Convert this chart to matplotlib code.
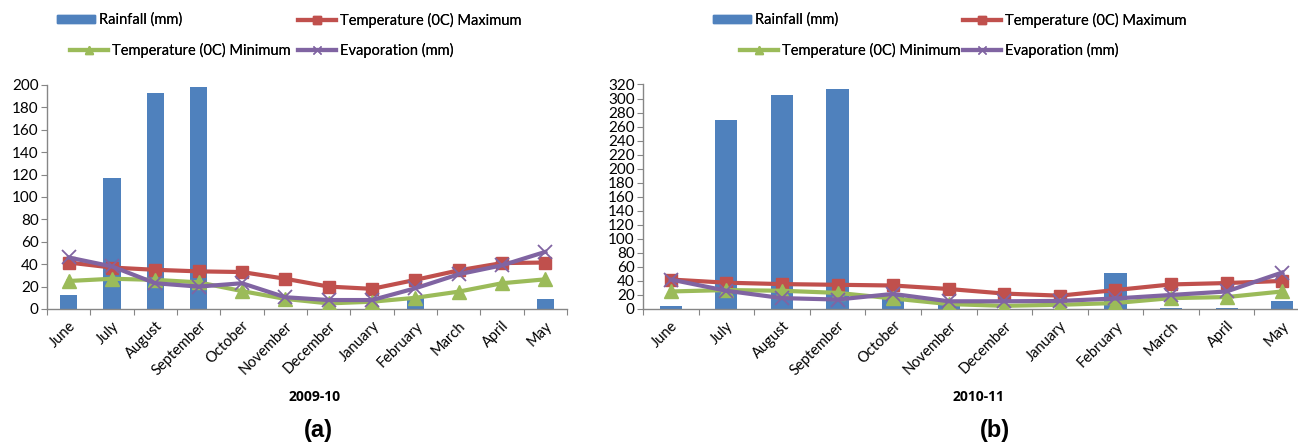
import matplotlib
matplotlib.use("Agg")
import matplotlib.pyplot as plt
from matplotlib.lines import Line2D
from matplotlib.patches import Patch
import numpy as np

plt.rcParams['font.family'] = ['Lato', 'DejaVu Sans']

months = ["June", "July", "August", "September", "October", "November",
          "December", "January", "February", "March", "April", "May"]

# Panel (a) 2009-10
rain_a = [12.5, 117, 193, 198, 0, 0, 0, 0, 9.5, 0, 0, 8.5]
tmax_a = [41.5, 37, 35, 33.6, 33, 27, 20, 18, 26, 34.5, 41, 41.5]
tmin_a = [25, 27, 26, 23.8, 16, 9, 5, 6.5, 10, 15.5, 23, 26.5]
evap_a = [46, 38, 23, 20, 23, 10.5, 8, 8, 18.5, 31, 39, 51]

# Panel (b) 2010-11
rain_b = [4.5, 270, 305, 313, 18, 10, 0, 0, 51, 2, 2, 12]
tmax_b = [42, 37.5, 35.5, 34.5, 33.5, 28.5, 22, 19, 27, 35, 37, 40]
tmin_b = [25, 27, 26, 23, 15, 7, 4.5, 6, 8.5, 15.5, 17, 25]
evap_b = [42, 26, 15.5, 13.5, 21.5, 11, 11, 11.5, 15, 20, 25, 52]

labels = ["Rainfall (mm)", "Temperature (0C) Maximum",
          "Temperature (0C) Minimum", "Evaporation (mm)"]

C_BLUE = "#4F81BD"
C_RED = "#C0504D"
C_GREEN = "#9BBB59"
C_PURPLE = "#8064A2"
AX_GRAY = "#868686"

W, H = 1298, 443
fig = plt.figure(figsize=(W / 100, H / 100), dpi=100)


def px_axes(left, right, top, bottom):
    return fig.add_axes([left / W, (H - bottom) / H, (right - left) / W, (bottom - top) / H])


def draw_panel(ax, rain, tmax, tmin, evap, ymax):
    x = np.arange(len(months))
    ax.bar(x, rain, width=0.4, color=C_BLUE, zorder=2)
    ax.plot(x, tmax, color=C_RED, lw=3, marker='s', ms=9, mfc=C_RED, mec=C_RED, zorder=3)
    ax.plot(x, tmin, color=C_GREEN, lw=3, marker='^', ms=10, mfc=C_GREEN, mec=C_GREEN, zorder=4)
    ax.plot(x, evap, color=C_PURPLE, lw=3, marker='x', ms=10, mew=1.3, mec=C_PURPLE, zorder=5)
    ax.set_xlim(-0.5, len(months) - 0.5)
    ax.set_ylim(0, ymax)
    ax.set_yticks(np.arange(0, ymax + 1, 20))
    ax.set_xticks(np.arange(-0.5, len(months), 1.0), minor=False)
    ax.set_xticklabels([])
    ax.set_xticks(x, minor=True)
    ax.set_xticklabels(months, minor=True, rotation=45, ha='right', va='top',
                       rotation_mode='anchor', fontsize=10.5)
    ax.tick_params(axis='x', which='minor', length=0, pad=7)
    ax.tick_params(axis='x', which='major', length=4, color=AX_GRAY, direction='out')
    ax.tick_params(axis='y', length=4, color=AX_GRAY, direction='out', labelsize=11, pad=2)
    for s in ['top', 'right']:
        ax.spines[s].set_visible(False)
    for s in ['left', 'bottom']:
        ax.spines[s].set_color(AX_GRAY)
        ax.spines[s].set_linewidth(1)
    ax.patch.set_alpha(0)


ax_a = px_axes(47, 567, 85, 309)
draw_panel(ax_a, rain_a, tmax_a, tmin_a, evap_a, 200)
ax_b = px_axes(643, 1310, 84.5, 309)
draw_panel(ax_b, rain_b, tmax_b, tmin_b, evap_b, 320)

BOLD_FAM = ['Open Sans', 'DejaVu Sans']
fig.text(315 / W, 1 - 397 / H, "2009-10", ha='center', va='center', fontsize=10,
         fontweight='bold', family=BOLD_FAM)
fig.text(978 / W, 1 - 397 / H, "2010-11", ha='center', va='center', fontsize=10,
         fontweight='bold', family=BOLD_FAM)
fig.text(318 / W, 1 - 430 / H, "(a)", ha='center', va='center', fontsize=17, fontweight='bold',
         family=['Liberation Sans', 'DejaVu Sans'])
fig.text(995 / W, 1 - 430 / H, "(b)", ha='center', va='center', fontsize=17, fontweight='bold',
         family=['Liberation Sans', 'DejaVu Sans'])

handles = [
    Patch(facecolor=C_BLUE, edgecolor=C_BLUE),
    Line2D([], [], color=C_RED, lw=3, marker='s', ms=6, mfc=C_RED, mec=C_RED),
    Line2D([], [], color=C_GREEN, lw=3, marker='^', ms=6, mfc=C_GREEN, mec=C_GREEN),
    Line2D([], [], color=C_PURPLE, lw=3, marker='x', ms=6, mew=1, mec=C_PURPLE),
]


def add_entry(h, lab, x_px, y_px):
    leg = fig.legend([h], [lab], loc='center left',
                     bbox_to_anchor=(x_px / W, 1 - y_px / H), bbox_transform=fig.transFigure,
                     frameon=False, handlelength=2.6, handletextpad=0.25, borderpad=0,
                     borderaxespad=0, fontsize=10.5, handleheight=0.55)
    fig.add_artist(leg)


# panel a legend
add_entry(handles[0], labels[0], 57, 20)
add_entry(handles[1], labels[1], 298, 20)
add_entry(handles[2], labels[2], 70, 50)
add_entry(handles[3], labels[3], 298, 50)
# panel b legend
add_entry(handles[0], labels[0], 713, 20)
add_entry(handles[1], labels[1], 963, 20)
add_entry(handles[2], labels[2], 740, 50)
add_entry(handles[3], labels[3], 963, 50)

fig.savefig("out.png", dpi=100)
